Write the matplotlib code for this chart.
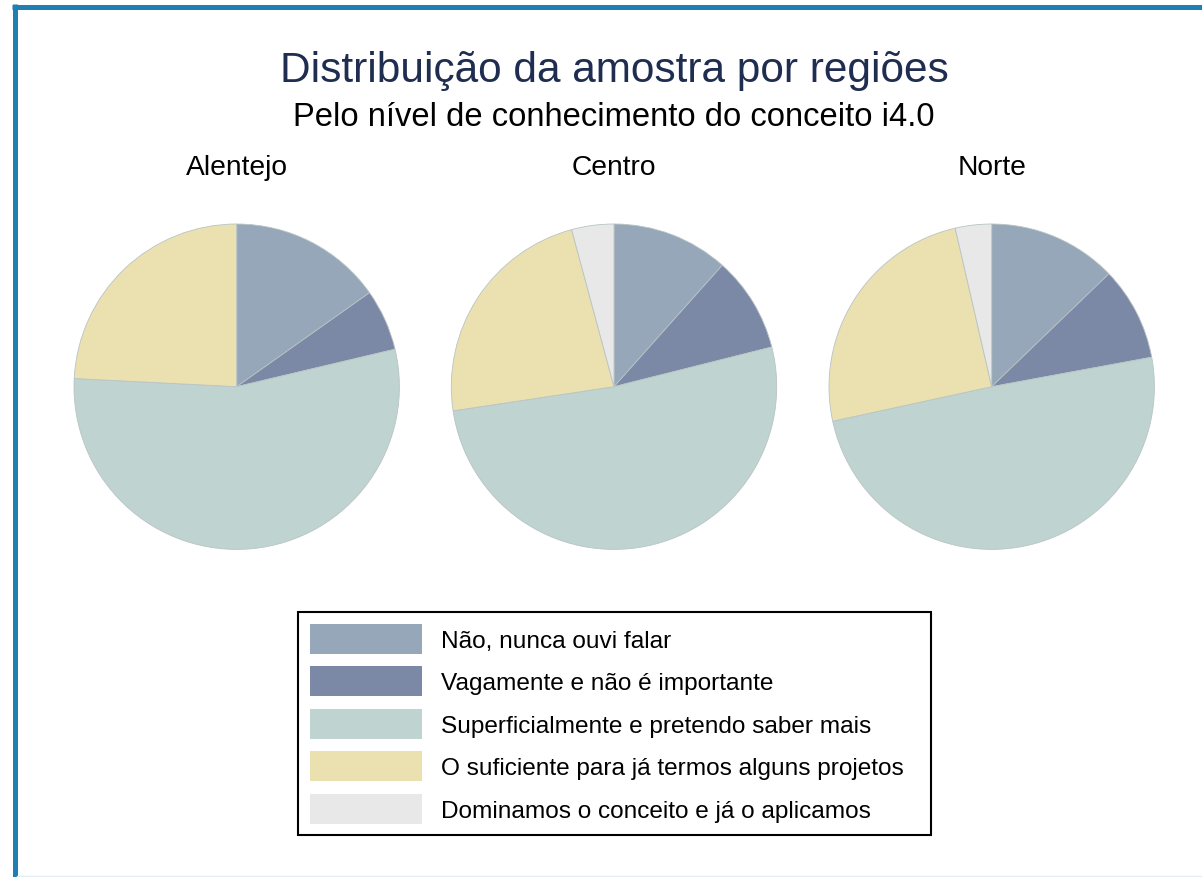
import numpy as np
import matplotlib.pyplot as plt
from matplotlib.patches import Patch, Rectangle
from matplotlib.lines import Line2D

plt.rcParams['font.family'] = ['Liberation Sans', 'DejaVu Sans']

# Shares (%) by knowledge level
regions = ["Alentejo", "Centro", "Norte"]
levels = ["Não, nunca ouvi falar",
          "Vagamente e não é importante",
          "Superficialmente e pretendo saber mais",
          "O suficiente para já termos alguns projetos",
          "Dominamos o conceito e já o aplicamos"]
alentejo = [15.2, 6.1, 54.5, 24.2, 0.0]
centro = [11.6, 9.5, 51.6, 23.2, 4.2]
norte = [12.8, 9.3, 49.5, 24.8, 3.6]
colors = ["#95a7b8", "#7b89a7", "#bfd3d1", "#ebe0b0", "#e8e8e8"]

W, H = 1202, 878
fig = plt.figure(figsize=(W / 100, H / 100), dpi=100)

# screenshot frame (blue at top and left)
fig.add_artist(Line2D([14.5 / W, 14.5 / W], [0, 1 - 5 / H], transform=fig.transFigure,
                      color="#1f7fb4", lw=3.6, solid_capstyle="butt"))
fig.add_artist(Line2D([12 / W, 1], [1 - 7.5 / H, 1 - 7.5 / H], transform=fig.transFigure,
                      color="#1f7fb4", lw=3.6, solid_capstyle="butt"))
fig.add_artist(Line2D([17 / W, 1], [1 - 876.5 / H, 1 - 876.5 / H], transform=fig.transFigure,
                      color="#e6edf1", lw=1.0))

fig.text(614 / W, 1 - 82 / H, "Distribuição da amostra por regiões",
         ha="center", va="baseline", fontsize=30.5, color="#1e2d50")
fig.text(614 / W, 1 - 126 / H, "Pelo nível de conhecimento do conceito i4.0",
         ha="center", va="baseline", fontsize=23.6, color="black")

centers = [236.7, 614, 991.7]
r = 162.7
cy = 387.7
for name, vals, cx in zip(regions, [alentejo, centro, norte], centers):
    ax = fig.add_axes([(cx - r) / W, 1 - (cy + r) / H, 2 * r / W, 2 * r / H])
    ax.pie(vals, colors=colors, startangle=90, counterclock=False, radius=1,
           wedgeprops=dict(edgecolor="#b9c4c4", linewidth=0.6))
    ax.set_xlim(-1, 1)
    ax.set_ylim(-1, 1)
    ax.set_aspect("equal")
    ax.axis("off")
    fig.text(cx / W, 1 - 175 / H, name, ha="center", va="baseline", fontsize=20.3)

# legend entries without frame, box drawn separately
handles = [Patch(facecolor=c, edgecolor="none") for c in colors]
fig.legend(handles, levels, loc="upper left", bbox_to_anchor=(298 / W, 1 - 613 / H),
           fontsize=17.6, frameon=False,
           handlelength=4.58, handleheight=1.51, labelspacing=0.51,
           handletextpad=0.78, borderpad=0.49, borderaxespad=0)
fig.add_artist(Rectangle((297.5 / W, 1 - 836 / H), 633 / W, 223 / H, transform=fig.transFigure,
                         facecolor="none", edgecolor="black", lw=1.5))

plt.savefig("out.png", dpi=100, facecolor="white")
